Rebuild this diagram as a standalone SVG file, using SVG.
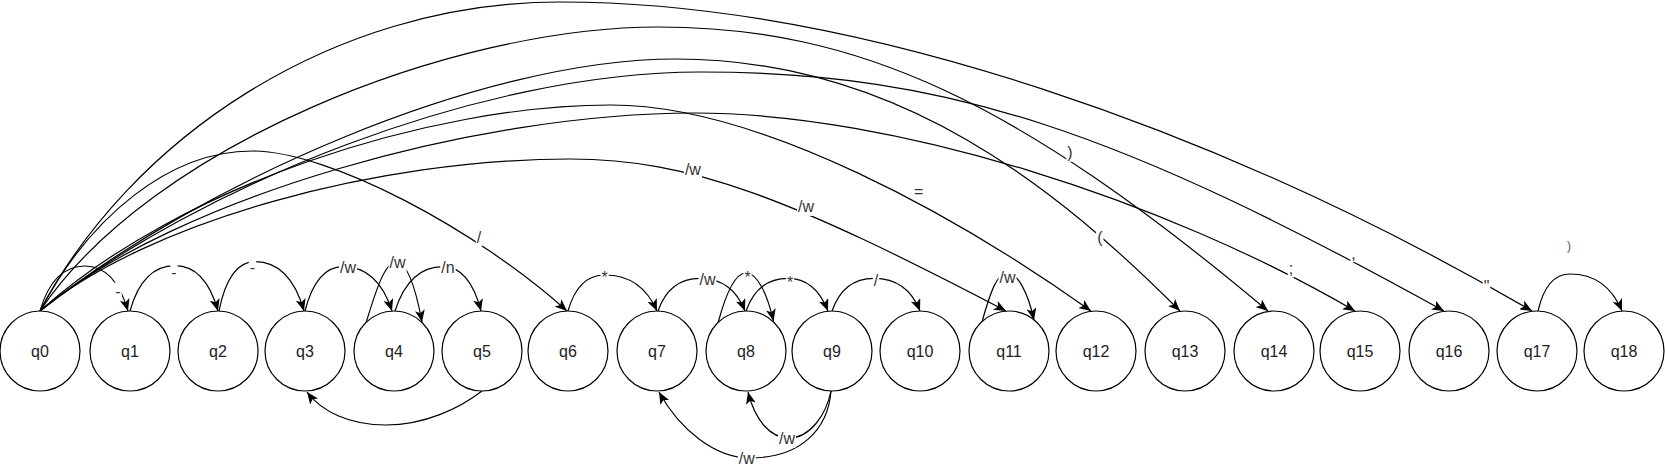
<svg xmlns="http://www.w3.org/2000/svg" width="1665" height="470" viewBox="0 0 1665 470">
<style>
.node circle{fill:#fff;stroke:#000;stroke-width:1.2}
.node text{font-family:"Liberation Sans",Arial,sans-serif;font-size:16px;fill:#222;text-anchor:middle}
.edge{fill:none;stroke:#000;stroke-width:1.2;marker-end:url(#arr)}
.lbl rect{fill:#fff}
.lbl text{font-family:"Liberation Sans",Arial,sans-serif;font-size:16px;fill:#333;text-anchor:middle}
.lbl text.small{font-size:12px;fill:#555}
</style>
<defs>
<marker id="arr" viewBox="0 0 12 10" markerWidth="12" markerHeight="10" refX="12" refY="5" orient="auto" markerUnits="userSpaceOnUse">
<path d="M0,0 L12,5 L0,10 L3,5 Z" fill="#000"/>
</marker>
</defs>
<g id="connectors">
<path class="edge" d="M40,311 C130,140 330,2 560,2 C860,2 1225,132 1532,311"/>
<path class="edge" d="M40,311 C150,146 450,27 658,27 C858,27 1017,100.5 1268,311"/>
<path class="edge" d="M40,311 C200,183 480,59 676,59 C900,59 1060,191 1180,311"/>
<path class="edge" d="M40,311 C200,185 480,72 700,72 C950,72 1122,133 1444,311"/>
<path class="edge" d="M40,311 C180,185 430,105 611,105 C761,105 960,218 1091,311"/>
<path class="edge" d="M40,311 C180,195 480,113 694,113 C894,113 1165,200 1355,311"/>
<path class="edge" d="M40,311 C150,220 380,159 570,159 C690,159 790,198 1006,311"/>
<path class="edge" d="M40,311 C90,216 170,151 252,151 C330,151 477,230 567,311"/>
<path class="edge" d="M40,311 C49,280 64,266 85,266 C104,266 119,280 128,311"/>
<path class="edge" d="M130,311 C139,279 155,265.7 175,265.7 C194,265.7 209,279 218,311"/>
<path class="edge" d="M219,311 C226,276 239,261.7 255,261.7 C277,261.7 294,276 304,311"/>
<path class="edge" d="M305,311 C313,280 326,266.7 343,266.7 C365,266.7 382,280 392,311"/>
<path class="edge" d="M366,323 C376,290 385,262 396,262 C408,262 416,290 422,322"/>
<path class="edge" d="M395,311 C405,280 421,266.7 443,266.7 C460,266.7 473,280 481,311"/>
<path class="edge" d="M482,391 C460,408 425,425 386,425 C350,425 322,412 307,392"/>
<path class="edge" d="M568,311 C575,286 588,275 605,275 C628,275 646,286 657,311"/>
<path class="edge" d="M658,311 C666,288 681,278.3 700,278.3 C720,278.3 736,288 745,311"/>
<path class="edge" d="M718,323 C726,293 735,273 746,273 C757,273 767,293 773.5,321"/>
<path class="edge" d="M746,311 C754,288 769,278.3 788,278.3 C806,278.3 819,288 828,311"/>
<path class="edge" d="M832,311 C840,288 855,278.3 874,278.3 C895,278.3 911,288 920,311"/>
<path class="edge" d="M831,391 C826,415 810,438 789,438 C770,438 755,420 748,392"/>
<path class="edge" d="M831,391 C828,430 800,458 750,458 C715,458 680,430 659,392"/>
<path class="edge" d="M982,322 C990,293 997,273 1007,273 C1018,273 1028,293 1034,320"/>
<path class="edge" d="M1538,311 C1544,285 1555,274 1570,274 C1593,274 1611,285 1622,311"/>
<g class="lbl">
<rect x="114.3" y="282.5" width="7.4" height="18"/><text x="118" y="297">-</text>
<rect x="170.3" y="263.2" width="7.4" height="18"/><text x="174" y="277.7">-</text>
<rect x="248.8" y="258.5" width="7.4" height="18"/><text x="252.5" y="273">-</text>
<rect x="339" y="258.9" width="18" height="18"/><text x="348" y="273.4">/w</text>
<rect x="388.5" y="253.9" width="18" height="18"/><text x="397.5" y="268.4">/w</text>
<rect x="440.3" y="258.9" width="15.4" height="18"/><text x="448" y="273.4">/n</text>
<rect x="475.8" y="228.5" width="6.4" height="18"/><text x="479" y="243">/</text>
<rect x="600.5" y="268.1" width="8.2" height="18"/><text x="604.6" y="282.6">*</text>
<rect x="698.5" y="270.5" width="18" height="18"/><text x="707.5" y="285">/w</text>
<rect x="743.4" y="268.8" width="8.2" height="18"/><text x="747.5" y="283.3">*</text>
<rect x="785.9" y="273.1" width="8.2" height="18"/><text x="790" y="287.6">*</text>
<rect x="872.8" y="271.9" width="6.4" height="18"/><text x="876" y="286.4">/</text>
<rect x="998.5" y="268.5" width="18" height="18"/><text x="1007.5" y="283">/w</text>
<rect x="778" y="429.5" width="18" height="18"/><text x="787" y="444">/w</text>
<rect x="737.8" y="449.5" width="18" height="18"/><text x="746.8" y="464">/w</text>
<rect x="683.9" y="160.5" width="18" height="18"/><text x="692.9" y="175">/w</text>
<rect x="797" y="197.9" width="18" height="18"/><text x="806" y="212.4">/w</text>
<rect x="913" y="182.1" width="11.3" height="18"/><text x="918.6" y="196.6">=</text>
<rect x="1096.1" y="228" width="7.4" height="18"/><text x="1099.8" y="242.5">(</text>
<rect x="1066.3" y="143.7" width="7.4" height="18"/><text x="1070" y="158.2">)</text>
<rect x="1287.8" y="259.5" width="6.4" height="18"/><text x="1291" y="274">;</text>
<rect x="1350.3" y="244.2" width="6.4" height="18"/><text x="1353.5" y="258.7">,</text>
<rect x="1482.6" y="277.1" width="7.7" height="18"/><text x="1486.5" y="291.6">&quot;</text>
<text class="small" x="1569" y="250.4">)</text>
</g>
</g>
<g id="q0" class="node"><circle cx="40" cy="351" r="40"/><text x="40" y="357">q0</text></g>
<g id="q1" class="node"><circle cx="130" cy="351" r="40"/><text x="130" y="357">q1</text></g>
<g id="q2" class="node"><circle cx="218" cy="351" r="40"/><text x="218" y="357">q2</text></g>
<g id="q3" class="node"><circle cx="305" cy="351" r="40"/><text x="305" y="357">q3</text></g>
<g id="q4" class="node"><circle cx="394" cy="351" r="40"/><text x="394" y="357">q4</text></g>
<g id="q5" class="node"><circle cx="482" cy="351" r="40"/><text x="482" y="357">q5</text></g>
<g id="q6" class="node"><circle cx="568" cy="351" r="40"/><text x="568" y="357">q6</text></g>
<g id="q7" class="node"><circle cx="657" cy="351" r="40"/><text x="657" y="357">q7</text></g>
<g id="q8" class="node"><circle cx="746" cy="351" r="40"/><text x="746" y="357">q8</text></g>
<g id="q9" class="node"><circle cx="832" cy="351" r="40"/><text x="832" y="357">q9</text></g>
<g id="q10" class="node"><circle cx="920" cy="351" r="40"/><text x="920" y="357">q10</text></g>
<g id="q11" class="node"><circle cx="1009" cy="351" r="40"/><text x="1009" y="357">q11</text></g>
<g id="q12" class="node"><circle cx="1096" cy="351" r="40"/><text x="1096" y="357">q12</text></g>
<g id="q13" class="node"><circle cx="1185" cy="351" r="40"/><text x="1185" y="357">q13</text></g>
<g id="q14" class="node"><circle cx="1274" cy="351" r="40"/><text x="1274" y="357">q14</text></g>
<g id="q15" class="node"><circle cx="1360" cy="351" r="40"/><text x="1360" y="357">q15</text></g>
<g id="q16" class="node"><circle cx="1449" cy="351" r="40"/><text x="1449" y="357">q16</text></g>
<g id="q17" class="node"><circle cx="1537" cy="351" r="40"/><text x="1537" y="357">q17</text></g>
<g id="q18" class="node"><circle cx="1624" cy="351" r="40"/><text x="1624" y="357">q18</text></g>
</svg>
